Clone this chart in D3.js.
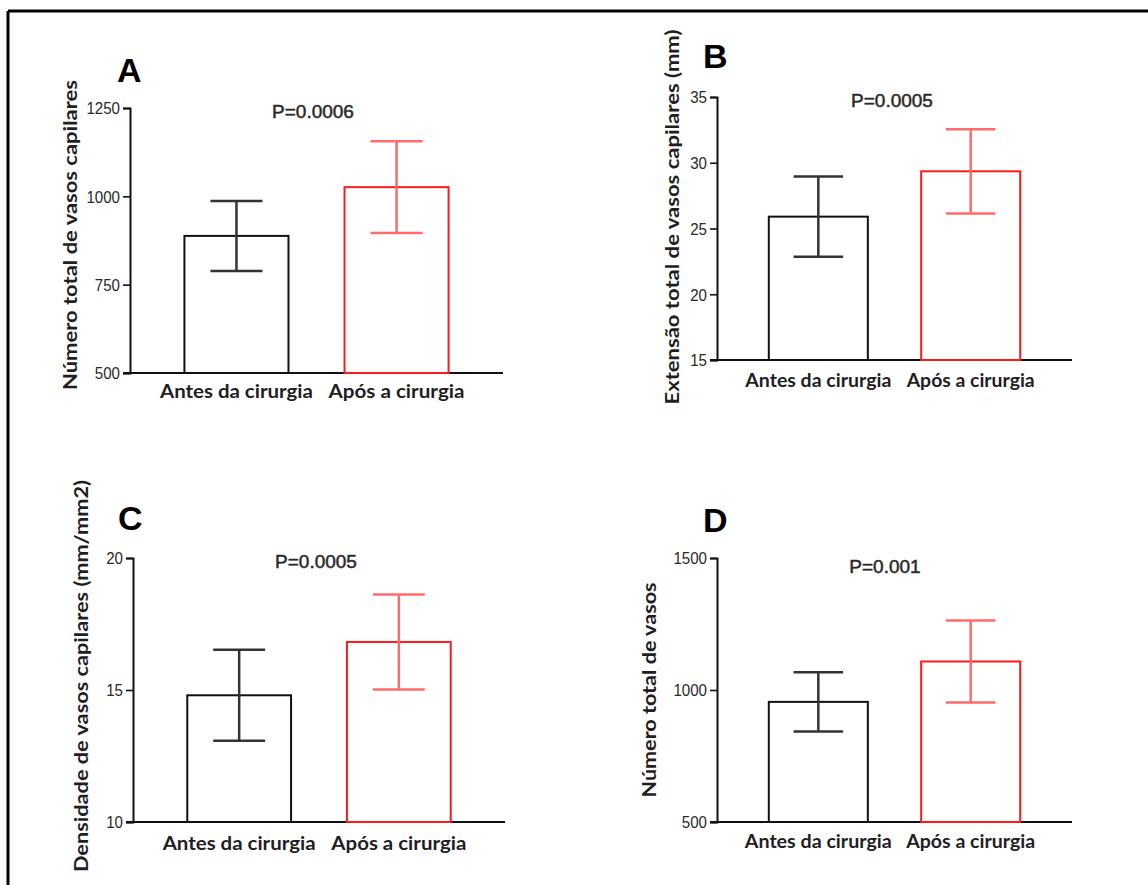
<!DOCTYPE html>
<html>
<head>
<meta charset="utf-8">
<script src="https://cdn.jsdelivr.net/npm/d3@7"></script>
<style>
  html, body { margin: 0; padding: 0; background: #fff; }
  svg { display: block; }
</style>
</head>
<body>
<svg id="chart" width="1148" height="885"></svg>
<script>
// ---------- DATA ----------
const categories = ["Antes da cirurgia", "Após a cirurgia"];
const panelLetters = ["A", "B", "C", "D"];
const yTitles = [
  "Número total de vasos capilares",
  "Extensão total de vasos capilares (mm)",
  "Densidade de vasos capilares (mm/mm2)",
  "Número total de vasos"
];
const pLabels = ["P=0.0006", "P=0.0005", "P=0.0005", "P=0.001"];

const meansA = [888, 1026];
const errA   = [99, 130];
const meansB = [25.9, 29.35];
const errB   = [3.05, 3.2];
const meansC = [14.8, 16.82];
const errC   = [1.72, 1.8];
const meansD = [955, 1108];
const errD   = [112, 155];

const domainA = [500, 1250];
const domainB = [15, 35];
const domainC = [10, 20];
const domainD = [500, 1500];

const ticksA = [500, 750, 1000, 1250];
const ticksB = [15, 20, 25, 30, 35];
const ticksC = [10, 15, 20];
const ticksD = [500, 1000, 1500];

// ---------- LAYOUT ----------
const layouts = [
  { x0: 130, x1: 503, top: 108, bottom: 373, letter: [117, 82], p: [313, 118], cat: 398, title: [71, 235, 310], catW: [153, 136] },
  { x0: 717, x1: 1072, top: 97, bottom: 360, letter: [703, 68], p: [892, 107], cat: 387, title: [673, 217, 375], catW: [146, 128] },
  { x0: 133, x1: 505, top: 558, bottom: 822, letter: [118, 530], p: [316, 568], cat: 850, title: [82, 676, 392], catW: [153, 135] },
  { x0: 717, x1: 1072, top: 558, bottom: 822, letter: [703, 532], p: [885, 573], cat: 848, title: [650, 690, 215], catW: [147, 129] }
];

const panels = [
  { means: meansA, errs: errA, domain: domainA, ticks: ticksA },
  { means: meansB, errs: errB, domain: domainB, ticks: ticksB },
  { means: meansC, errs: errC, domain: domainC, ticks: ticksC },
  { means: meansD, errs: errD, domain: domainD, ticks: ticksD }
];

const barColors = ["#111111", "#ff1a1a"];
const errColors = ["#333333", "#ff6b6b"];
const textColor = "#1e1e24";
const labelFont = "Lato, 'Open Sans', 'DejaVu Sans', sans-serif";
const narrowFont = "'Liberation Sans Narrow', 'Arial Narrow', 'Liberation Sans', sans-serif";

const svg = d3.select("#chart");

// outer frame (top and left lines)
svg.append("line").attr("x1", 8).attr("x2", 1148).attr("y1", 11).attr("y2", 11)
  .attr("stroke", "#000").attr("stroke-width", 3);
svg.append("line").attr("x1", 8).attr("x2", 8).attr("y1", 11).attr("y2", 885)
  .attr("stroke", "#000").attr("stroke-width", 3);

function fit(sel, w) {
  const node = sel.node();
  const len = node.getComputedTextLength();
  if (w && len > 0) sel.attr("textLength", w).attr("lengthAdjust", "spacingAndGlyphs");
  return sel;
}

panels.forEach((pd, i) => {
  const L = layouts[i];
  const g = svg.append("g");

  const y = d3.scaleLinear().domain(pd.domain).range([L.bottom, L.top]);
  const x = d3.scaleBand().domain(categories).range([L.x0, L.x1])
    .paddingInner(0.35).paddingOuter(0.34);

  // y axis
  const yAxis = d3.axisLeft(y).tickValues(pd.ticks).tickSize(7).tickPadding(3)
    .tickFormat(d3.format("d"));
  const ya = g.append("g").attr("transform", `translate(${L.x0},0)`).call(yAxis);
  ya.select(".domain").attr("stroke", "#111").attr("stroke-width", 2);
  ya.selectAll(".tick line").attr("stroke", "#111").attr("stroke-width", 1.6);
  ya.selectAll(".tick text").attr("font-family", narrowFont).attr("font-size", 17)
    .attr("fill", "#2a2a2a").attr("dy", "0.35em")
    .each(function (d) {
      const s = d3.select(this);
      fit(s, String(d).length * 8.4);
    });

  // x axis baseline
  g.append("line").attr("x1", L.x0 - 7).attr("x2", L.x1)
    .attr("y1", L.bottom).attr("y2", L.bottom)
    .attr("stroke", "#111").attr("stroke-width", 2);

  const data = categories.map((c, k) => ({ c, k, m: pd.means[k], e: pd.errs[k] }));

  // bars
  g.selectAll("rect.bar").data(data).join("rect")
    .attr("class", "bar")
    .attr("x", d => x(d.c))
    .attr("width", x.bandwidth())
    .attr("y", d => y(d.m))
    .attr("height", d => y(pd.domain[0]) - y(d.m))
    .attr("fill", "none")
    .attr("stroke", d => barColors[d.k])
    .attr("stroke-width", 2);

  // error bars
  const capW = x.bandwidth() * 0.5;
  const eg = g.selectAll("g.err").data(data).join("g").attr("class", "err")
    .attr("stroke", d => errColors[d.k]).attr("stroke-width", 2.5);
  eg.append("line")
    .attr("x1", d => x(d.c) + x.bandwidth() / 2).attr("x2", d => x(d.c) + x.bandwidth() / 2)
    .attr("y1", d => y(d.m + d.e)).attr("y2", d => y(d.m - d.e));
  eg.append("line")
    .attr("x1", d => x(d.c) + x.bandwidth() / 2 - capW / 2).attr("x2", d => x(d.c) + x.bandwidth() / 2 + capW / 2)
    .attr("y1", d => y(d.m + d.e)).attr("y2", d => y(d.m + d.e));
  eg.append("line")
    .attr("x1", d => x(d.c) + x.bandwidth() / 2 - capW / 2).attr("x2", d => x(d.c) + x.bandwidth() / 2 + capW / 2)
    .attr("y1", d => y(d.m - d.e)).attr("y2", d => y(d.m - d.e));

  // category labels
  data.forEach(d => {
    const t = g.append("text")
      .attr("x", x(d.c) + x.bandwidth() / 2).attr("y", L.cat)
      .attr("text-anchor", "middle")
      .attr("font-family", labelFont).attr("font-weight", 700).attr("font-size", 19)
      .attr("fill", textColor).text(d.c);
    fit(t, L.catW[d.k]);
  });

  // y title
  const tt = g.append("text")
    .attr("transform", `translate(${L.title[0]},${L.title[1]}) rotate(-90)`)
    .attr("text-anchor", "middle").attr("dy", "0.35em")
    .attr("font-family", labelFont).attr("font-weight", 700).attr("font-size", 18)
    .attr("fill", textColor).text(yTitles[i]);
  fit(tt, L.title[2]);

  // panel letter
  g.append("text").attr("x", L.letter[0]).attr("y", L.letter[1])
    .attr("font-family", "'Liberation Sans', Arial, sans-serif").attr("font-weight", 700)
    .attr("font-size", 34).attr("fill", "#000").text(panelLetters[i]);

  // P value
  g.append("text").attr("x", L.p[0]).attr("y", L.p[1])
    .attr("text-anchor", "middle")
    .attr("font-family", "'Liberation Sans', Arial, sans-serif").attr("font-weight", 400)
    .attr("font-size", 19).attr("fill", "#2a2a2a")
    .attr("stroke", "#2a2a2a").attr("stroke-width", 0.5)
    .text(pLabels[i]);
});
</script>
</body>
</html>
